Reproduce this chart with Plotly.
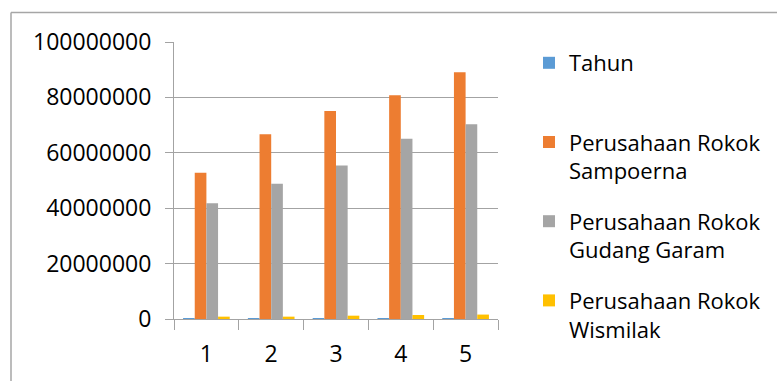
import plotly.graph_objects as go

categories = ["1", "2", "3", "4", "5"]
tahun = [2010, 2011, 2012, 2013, 2014]
sampoerna = [52.8e6, 66.7e6, 75.1e6, 80.8e6, 89.1e6]
gudang_garam = [41.8e6, 48.8e6, 55.4e6, 65.1e6, 70.3e6]
wismilak = [0.85e6, 0.85e6, 1.2e6, 1.45e6, 1.6e6]
y_ticks = [0, 20000000, 40000000, 60000000, 80000000, 100000000]

series = [
    ("Tahun<br>&nbsp;", tahun, "#5B9BD5"),
    ("Perusahaan Rokok<br>Sampoerna", sampoerna, "#ED7D31"),
    ("Perusahaan Rokok<br>Gudang Garam", gudang_garam, "#A5A5A5"),
    ("Perusahaan Rokok<br>Wismilak", wismilak, "#FFC000"),
]

FONT = "Open Sans"
GRID = "#a3a3a3"
FS = 23

fig = go.Figure()
for i, (name, vals, col) in enumerate(series):
    fig.add_trace(go.Bar(x=categories, y=vals, name=name, marker_color=col,
                         marker_line_width=0, legendgroup=f"g{i}"))

W, H = 777, 381
L, R, T, B = 174, 278, 42, 62
pw, ph = W - L - R, H - T - B

def px_x(p):
    return (p - L) / pw

def px_y(p):
    return (H - B - p) / ph

fig.update_layout(
    width=W, height=H,
    margin=dict(l=L, r=R, t=T, b=B),
    paper_bgcolor="white", plot_bgcolor="white",
    barmode="group", bargap=0.28, bargroupgap=0,
    font=dict(family=FONT, size=FS, color="#000000"),
    showlegend=True,
    legend=dict(x=px_x(529), xanchor="left", y=px_y(42), yanchor="top",
                valign="top", tracegroupgap=19, maxheight=600,
                font=dict(family=FONT, size=FS - 1, color="#000000"),
                bgcolor="rgba(0,0,0,0)"),
    xaxis=dict(type="category", tickson="boundaries", ticks="outside",
               ticklen=10, tickcolor=GRID, showline=True, linecolor=GRID,
               showgrid=False, tickfont=dict(size=FS), ticklabelstandoff=14),
    yaxis=dict(range=[0, 1e8], tickvals=y_ticks, tickformat="d",
               showgrid=True, gridcolor=GRID, gridwidth=1,
               ticks="outside", ticklen=8, tickcolor=GRID,
               showline=True, linecolor=GRID, zeroline=False,
               ticklabelstandoff=9, tickfont=dict(size=FS)),
    shapes=[
        dict(type="line", xref="paper", yref="paper",
             x0=px_x(10.5), x1=px_x(10.5), y0=px_y(12.5), y1=px_y(400),
             line=dict(color="#a6a6a6", width=1.5)),
        dict(type="line", xref="paper", yref="paper",
             x0=px_x(10.5), x1=px_x(800), y0=px_y(12.5), y1=px_y(12.5),
             line=dict(color="#a6a6a6", width=1.5)),
    ],
)

fig.write_html("out.html")
